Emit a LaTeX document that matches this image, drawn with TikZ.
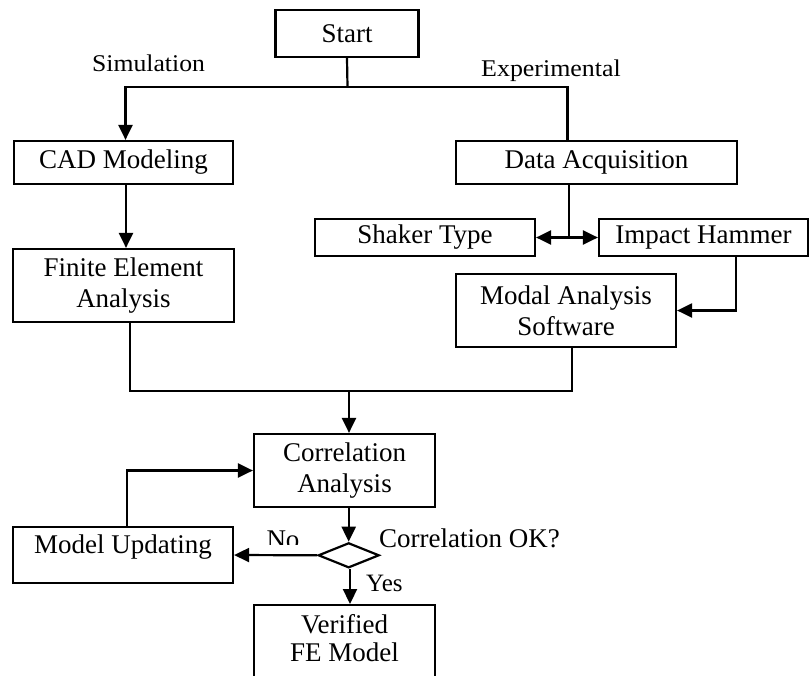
\documentclass[tikz,border=0pt]{standalone}
\usepackage{graphicx}
\usepackage{fontspec}
\setmainfont{Liberation Serif}
\usetikzlibrary{arrows.meta,shapes.geometric,calc}
\begin{document}
\begin{tikzpicture}[x=1pt,y=-1pt,
  box/.style={draw, line width=2.2pt, rectangle, inner sep=0pt, align=center,
              font=\fontsize{27}{31}\selectfont},
  conn/.style={line width=2.2pt},
  arr/.style={conn, -{Triangle[length=15pt,width=14pt]}},
  lbl/.style={inner sep=0pt, font=\fontsize{27}{31}\selectfont},
  small/.style={inner sep=0pt, font=\fontsize{24}{28}\selectfont},
]
\useasboundingbox (0,0) rectangle (811,675);

% boxes
\node[box, minimum width=143pt, minimum height=47pt] (start) at (347,33.5) {Start};
\node[box, minimum width=219pt, minimum height=43pt] (cad) at (123.5,162.5) {CAD Modeling};
\node[box, minimum width=281pt, minimum height=43pt] (daq) at (596.5,162.5) {Data Acquisition};
\node[box, minimum width=220pt, minimum height=37pt] (shaker) at (425,237.5) {Shaker Type};
\node[box, minimum width=209pt, minimum height=37pt] (impact) at (703.5,237.5) {Impact Hammer};
\node[box, minimum width=221pt, minimum height=73pt] (fea) at (123.5,285.5) {Finite Element\\Analysis};
\node[box, minimum width=220pt, minimum height=73pt] (modal) at (566,310.5) {Modal Analysis\\Software};
\node[box, minimum width=181pt, minimum height=73pt] (corr) at (344.5,470.5) {Correlation\\Analysis};
\node[box, minimum width=220pt, minimum height=56pt] (mu) at (123,555) {};
\node[lbl] (mut) at (123,547) {Model Updating};
\node[diamond, draw, line width=2.2pt, minimum width=61pt, minimum height=25pt, inner sep=0pt] (dia) at (348.7,555.3) {};
\node[box, minimum width=181pt, minimum height=80pt, anchor=north] (ver) at (344.5,604) {};
\node[lbl, align=center, font=\fontsize{27}{28}\selectfont] (vert) at (344.5,638) {Verified\\FE Model};

% labels
\node[small, anchor=base west] (sim) at (92,71.5) {\scalebox{1.07}[1]{Simulation}};
\node[small, anchor=base west] (exp) at (481,76.5) {\scalebox{1.08}[1]{Experimental}};
\begin{scope}
  \clip (250,500) rectangle (320,544);
  \node[lbl, anchor=base] (no) at (283,548) {No};
\end{scope}
\node[lbl, anchor=base west] (ok) at (379,547) {Correlation OK?};
\node[lbl, anchor=base west, font=\fontsize{25}{29}\selectfont] (yes) at (366,591) {Yes};

% connectors
\coordinate (jtop) at (347.5,87);
\draw[conn] (start.south) -- (jtop);
\draw[arr] (jtop) -| ([xshift=2pt]cad.north);
\draw[conn] (jtop) -| ([xshift=-29pt]daq.north);
\draw[arr] ([xshift=2.5pt]cad.south) -- ([xshift=2.5pt]fea.north);
\coordinate (jdaq) at (569,237.5);
\draw[conn] (daq.south -| jdaq) -- (jdaq);
\draw[arr] (jdaq) -- (shaker.east);
\draw[arr] (jdaq) -- (impact.west);
\draw[arr] ([xshift=32.5pt]impact.south) |- (modal.east);
\coordinate (jmerge) at (349,391);
\draw[conn] ([xshift=6.5pt]fea.south) |- (jmerge);
\draw[conn] ([xshift=6pt]modal.south) |- (jmerge);
\draw[arr] (jmerge) -- (jmerge |- corr.north);
\draw[arr] (corr.south -| dia.north) -- (dia.north);
\draw[arr] (dia.west) -- (mu.east);
\draw[arr] ([xshift=4pt]mu.north) |- (corr.west);
\draw[arr] ([xshift=1.3pt]dia.south) -- ([xshift=1.3pt]dia.south |- ver.north);
\end{tikzpicture}
\end{document}
